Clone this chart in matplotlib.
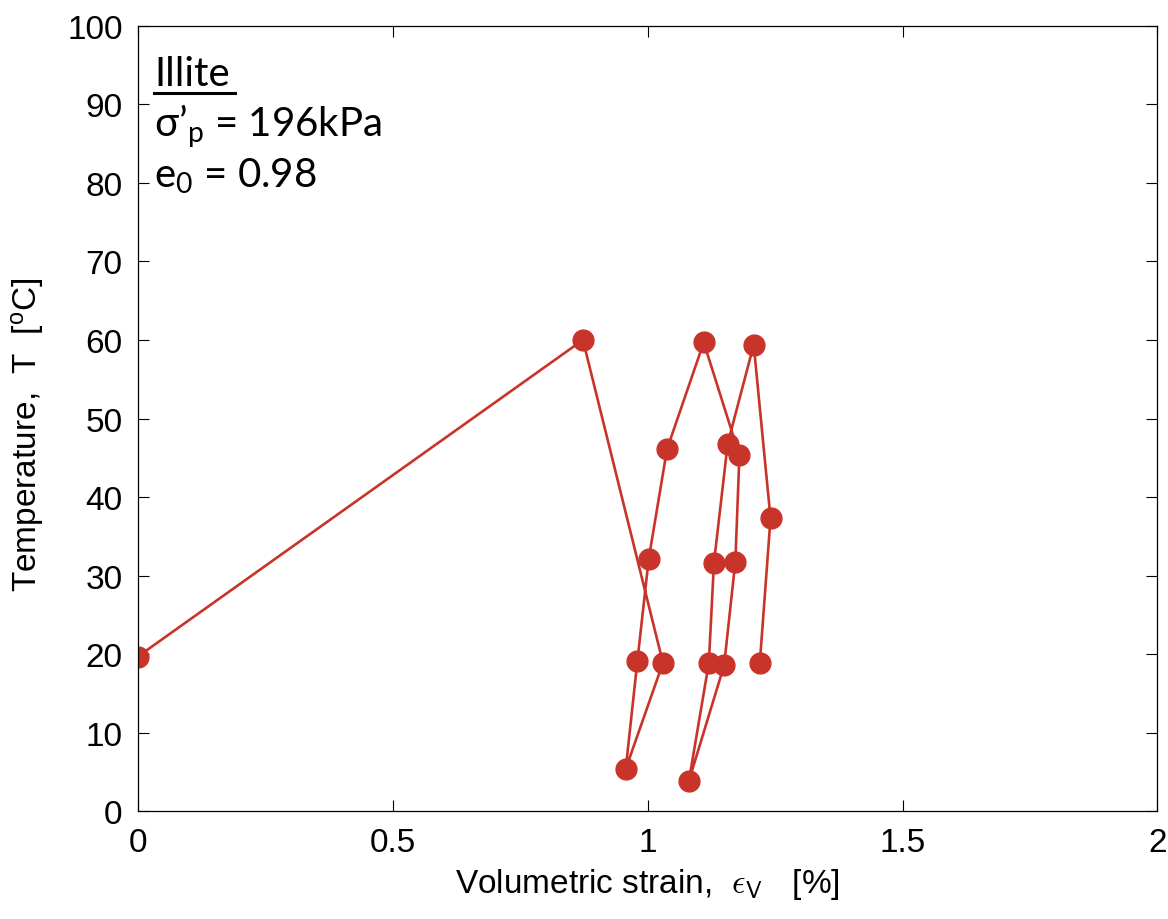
import matplotlib
matplotlib.use("Agg")
import matplotlib.pyplot as plt

# volumetric strain [%] and temperature [C], in test order
strain = [0.0, 0.873, 1.030, 0.957, 0.980, 1.002, 1.038, 1.110, 1.180, 1.172,
          1.150, 1.081, 1.120, 1.130, 1.157, 1.208, 1.241, 1.220]
temp = [19.7, 60.0, 18.9, 5.4, 19.2, 32.1, 46.1, 59.7, 45.3, 31.8,
        18.6, 3.9, 18.9, 31.6, 46.8, 59.4, 37.3, 18.9]

xticks = [0, 0.5, 1, 1.5, 2]
xticklabels = ["0", "0.5", "1", "1.5", "2"]
yticks = list(range(0, 101, 10))

plt.rcParams['font.family'] = ['Liberation Sans', 'DejaVu Sans']
plt.rcParams['mathtext.fontset'] = 'custom'
plt.rcParams['mathtext.rm'] = 'Lato'
plt.rcParams['mathtext.sf'] = 'Liberation Sans'
plt.rcParams['mathtext.it'] = 'Liberation Sans:italic'
plt.rcParams['mathtext.fallback'] = 'cm'

fig = plt.figure(figsize=(11.68, 9.2), dpi=100)
ax = fig.add_axes([0.118, 0.117, 0.873, 0.854])

red = '#c9342a'
ax.plot(strain, temp, '-o', color=red, lw=1.9, ms=15, mfc=red, mec=red)

ax.set_xlim(0, 2)
ax.set_ylim(0, 100)
ax.set_xticks(xticks)
ax.set_xticklabels(xticklabels)
ax.set_yticks(yticks)
ax.tick_params(direction='in', top=True, right=True, labelsize=24, length=8,
               width=0.8, pad=11)
for s in ax.spines.values():
    s.set_linewidth(0.9)

ax.set_xlabel(r'Volumetric strain, $\ \epsilon_{\mathsf{V}}\ \ $ [%]', fontsize=24,
              labelpad=6, math_fontfamily='cm')
ax.set_ylabel(r'Temperature,  T  [$\mathsf{^o}$C]', fontsize=24, labelpad=10)
ax.yaxis.set_label_coords(-0.09, 0.48)

tfont = ['Lato', 'DejaVu Sans']
ax.text(0.016, 0.924, 'Illite', transform=ax.transAxes, fontsize=29,
        family=tfont, va='baseline')
ax.plot([0.016, 0.095], [0.914, 0.914], transform=ax.transAxes, color='black', lw=2.2)
ax.text(0.016, 0.860, r'σ’$_\mathrm{p}$ = 196kPa', transform=ax.transAxes, fontsize=29,
        family=tfont, va='baseline')
ax.text(0.016, 0.795, r'e$_\mathrm{0}$ = 0.98', transform=ax.transAxes, fontsize=29,
        family=tfont, va='baseline')

fig.savefig('out.png', dpi=100)
